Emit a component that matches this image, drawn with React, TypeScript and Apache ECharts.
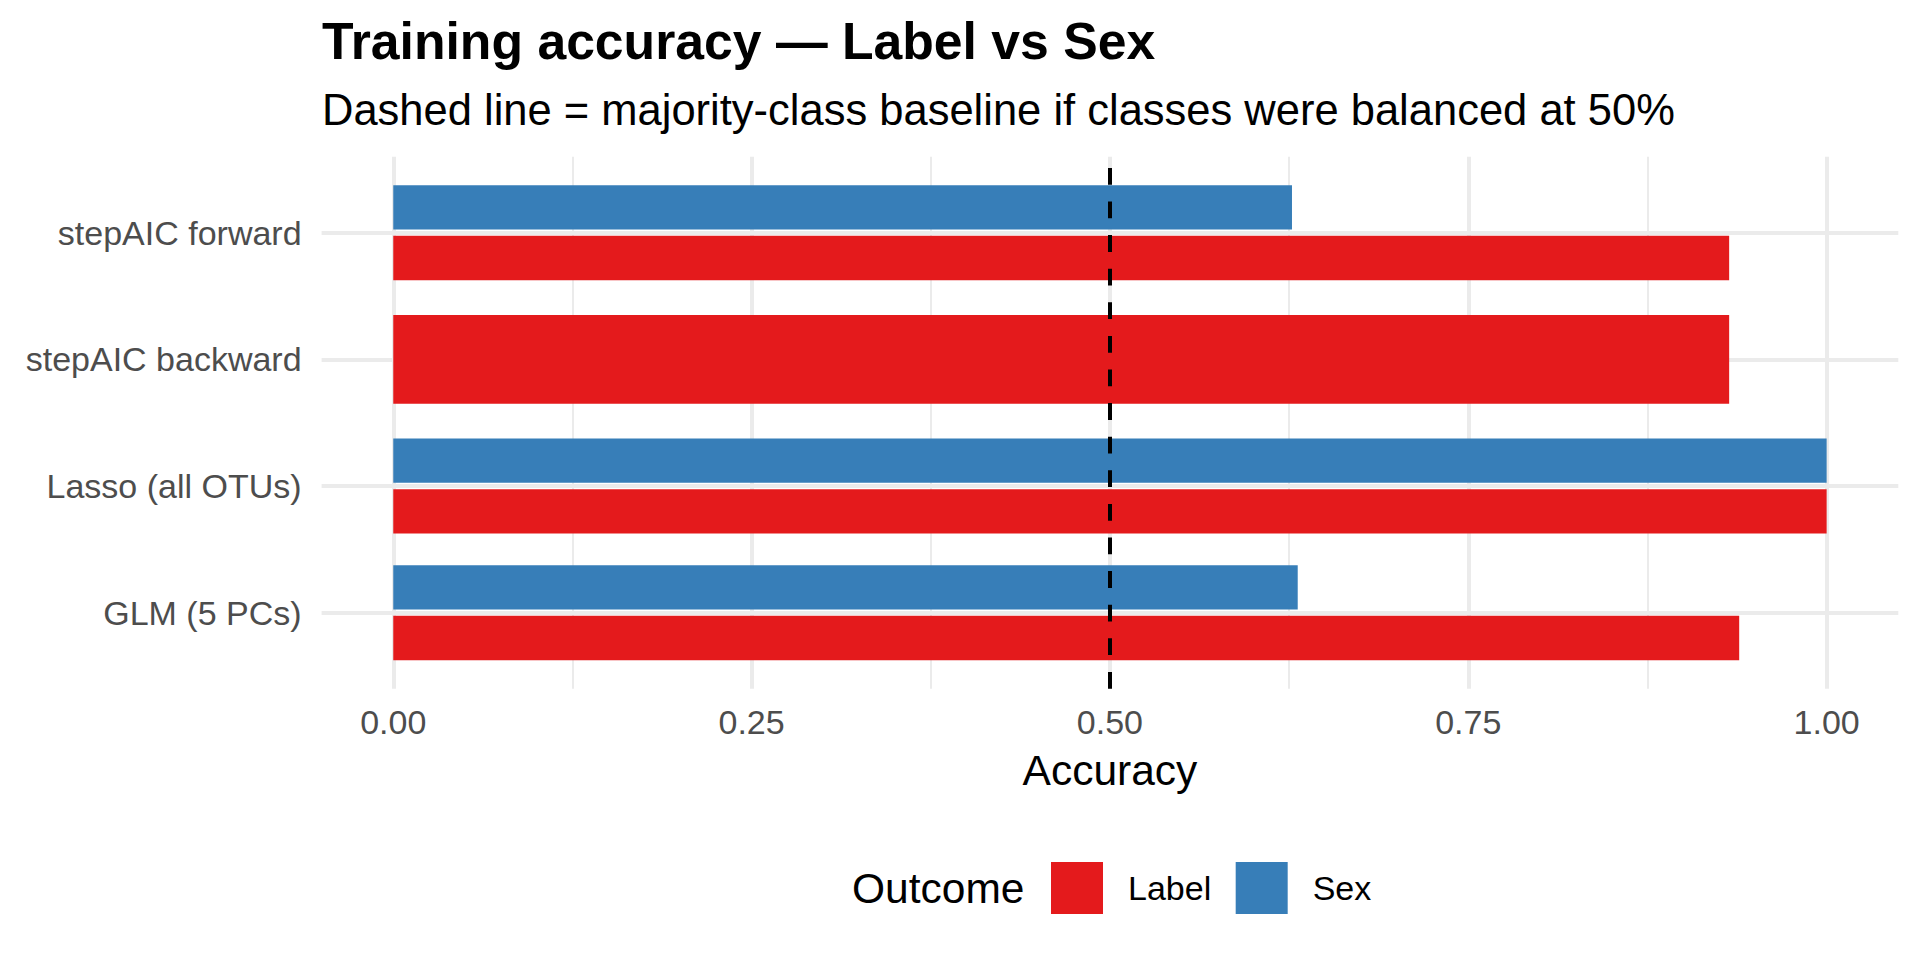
import React, { useEffect, useRef } from "react";
import * as echarts from "echarts";

// ---- data ----
const CATEGORIES = ["GLM (5 PCs)", "Lasso (all OTUs)", "stepAIC backward", "stepAIC forward"];
const OUTCOMES = ["Label", "Sex"];
const LABEL_ACC: (number | null)[] = [0.939, 1.0, 0.932, 0.932];
const SEX_ACC: (number | null)[] = [0.631, 1.0, null, 0.627];
const X_TICKS = [0, 0.25, 0.5, 0.75, 1];
const X_MINOR_TICKS = [0.125, 0.375, 0.625, 0.875];
const BASELINE = 0.5;

const TITLE = "Training accuracy — Label vs Sex";
const SUBTITLE = "Dashed line = majority-class baseline if classes were balanced at 50%";
const X_TITLE = "Accuracy";
const LEGEND_TITLE = "Outcome";

const COLORS = ["#E41A1C", "#377EB8"];
const FONT = "'Liberation Sans', Arial, Helvetica, sans-serif";
const GRID_COLOR = "#EBEBEB";
const AXIS_TEXT = "#4D4D4D";

const ALL_VALUES = [LABEL_ACC, SEX_ACC];

function makeSeries(sIdx: number) {
  const values = ALL_VALUES[sIdx];
  const data = values
    .map((v, i) => (v == null ? null : [v, i]))
    .filter((d) => d != null);
  const series: any = {
    type: "custom",
    name: OUTCOMES[sIdx],
    xAxisIndex: 0,
    yAxisIndex: 0,
    itemStyle: { color: COLORS[sIdx] },
    encode: { x: 0, y: 1 },
    data,
    z: 3,
    renderItem: (_params: any, api: any) => {
      const v = api.value(0);
      const i = Math.round(api.value(1));
      const present = ALL_VALUES.map((arr) => arr[i] != null);
      const n = present.filter(Boolean).length;
      let k = 0;
      for (let s = 0; s < sIdx; s++) if (present[s]) k++;
      const dodge = 0.8;
      const width = 0.7;
      const center = i + (k - (n - 1) / 2) * (dodge / n);
      const half = width / n / 2;
      const p0 = api.coord([0, center + half]);
      const p1 = api.coord([v, center - half]);
      return {
        type: "rect",
        shape: { x: p0[0], y: p0[1], width: p1[0] - p0[0], height: p1[1] - p0[1] },
        style: { fill: COLORS[sIdx] },
      };
    },
  };
  if (sIdx === 0) {
    series.markLine = {
      silent: true,
      symbol: ["none", "none"],
      label: { show: false },
      lineStyle: { color: "#000", width: 4, type: [16.8, 16.8], dashOffset: 0 },
      data: [{ xAxis: BASELINE }],
      z: 10,
    };
  }
  return series;
}

export default function App() {
  const ref = useRef<HTMLDivElement>(null);
  useEffect(() => {
    if (!ref.current) return;
    const chart = echarts.init(ref.current, undefined, { renderer: "svg" });
    const yTicks = CATEGORIES.map((_, i) => i);
    chart.setOption({
      animation: false,
      backgroundColor: "#FFFFFF",
      textStyle: { fontFamily: FONT },
      title: [
        {
          text: TITLE,
          left: 322,
          top: 15,
          padding: 0,
          textStyle: { fontSize: 51.7, fontWeight: "bold", color: "#000", fontFamily: FONT },
        },
        {
          text: SUBTITLE,
          left: 322,
          top: 88.3,
          padding: 0,
          textStyle: { fontSize: 43.5, fontWeight: "normal", color: "#000", fontFamily: FONT },
        },
      ],
      grid: { left: 321.6, right: 21.7, top: 156.7, bottom: 271.3, containLabel: false },
      xAxis: [
        {
          type: "value",
          gridIndex: 0,
          min: -0.05,
          max: 1.05,
          position: "bottom",
          axisLine: { show: false },
          axisTick: { show: false, customValues: X_TICKS },
          axisLabel: {
            customValues: X_TICKS,
            formatter: (v: number) => v.toFixed(2),
            fontSize: 34,
            color: AXIS_TEXT,
            margin: 16,
            fontFamily: FONT,
          },
          splitLine: { show: true, lineStyle: { color: GRID_COLOR, width: 4 } },
          name: X_TITLE,
          nameLocation: "middle",
          nameGap: 60,
          nameTextStyle: { fontSize: 42.5, color: "#000", fontFamily: FONT },
        },
        {
          type: "value",
          gridIndex: 0,
          min: -0.05,
          max: 1.05,
          position: "bottom",
          axisLine: { show: false },
          axisTick: { show: false, customValues: X_MINOR_TICKS },
          axisLabel: { show: false, customValues: X_MINOR_TICKS },
          splitLine: { show: true, lineStyle: { color: GRID_COLOR, width: 2 } },
        },
      ],
      yAxis: {
        type: "value",
        min: -0.6,
        max: CATEGORIES.length - 1 + 0.6,
        axisLine: { show: false },
        axisTick: { show: false, customValues: yTicks },
        axisLabel: {
          customValues: yTicks,
          formatter: (v: number) => CATEGORIES[Math.round(v)] ?? "",
          fontSize: 34,
          color: AXIS_TEXT,
          margin: 20,
          fontFamily: FONT,
        },
        splitLine: { show: true, lineStyle: { color: GRID_COLOR, width: 4 } },
      },
      legend: {
        data: OUTCOMES.map((name) => ({ name, icon: "rect" })),
        left: 1051,
        top: 862,
        padding: 0,
        itemWidth: 52,
        itemHeight: 52,
        itemGap: 24.5,
        selectedMode: false,
        textStyle: { fontSize: 34, color: "#000", fontFamily: FONT, padding: [0, 0, 0, 20] },
      },
      graphic: [
        {
          type: "text",
          left: 852,
          top: 888 - 21.25,
          style: { text: LEGEND_TITLE, fontSize: 42.5, fill: "#000", fontFamily: FONT },
        },
      ],
      series: OUTCOMES.map((_, s) => makeSeries(s)),
    });
    return () => chart.dispose();
  }, []);
  return (
    <div
      ref={ref}
      style={{ position: "fixed", left: 0, top: 0, width: 1920, height: 960, background: "#fff" }}
    />
  );
}
